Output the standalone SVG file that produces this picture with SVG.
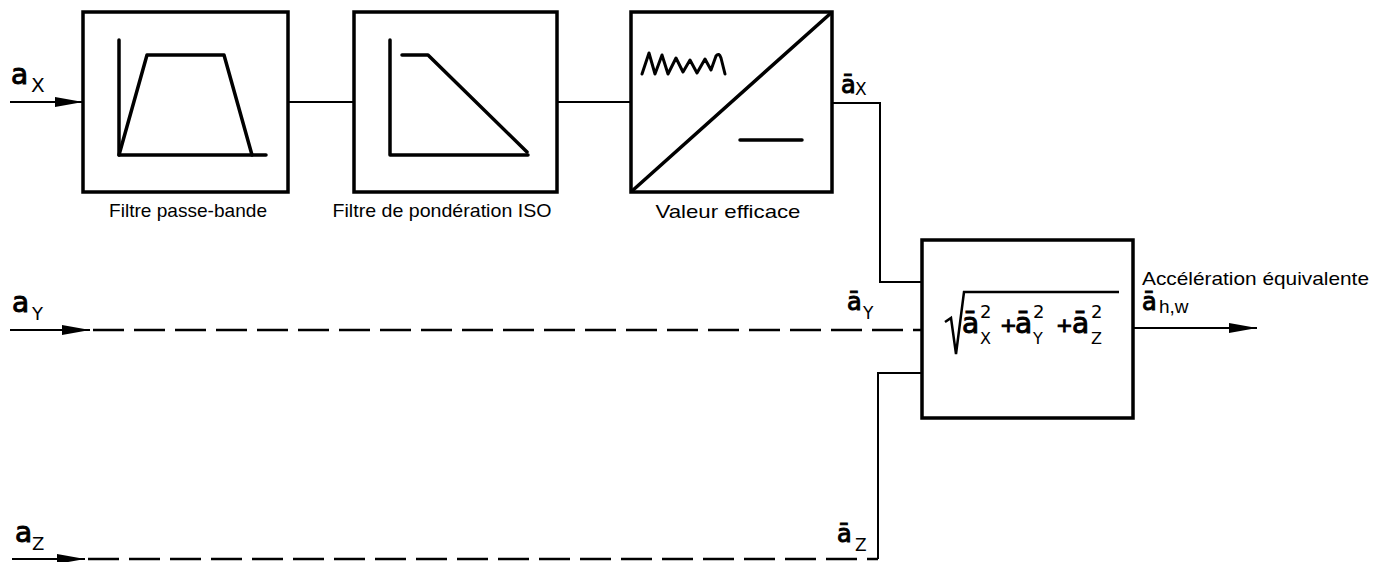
<svg xmlns="http://www.w3.org/2000/svg" width="1373" height="562" viewBox="0 0 1373 562">
<style>
  .box{fill:#fff;stroke:#000;stroke-width:3.5}
  .ink{fill:none;stroke:#000;stroke-width:3.5;stroke-linejoin:round;stroke-linecap:round}
  .wire{fill:none;stroke:#000;stroke-width:2}
  .dash{fill:none;stroke:#000;stroke-width:2.5;stroke-dasharray:31 10}
  .lbl{font-family:"Liberation Sans",Arial,sans-serif;font-size:19px;fill:#000}
  .sym{font-family:"DejaVu Sans","Liberation Sans",sans-serif;fill:#000}
  .a{stroke:#000;stroke-width:1}
</style>
<defs>
  <marker id="arrow" markerUnits="userSpaceOnUse" markerWidth="30" markerHeight="14" refX="28" refY="7" orient="auto" viewBox="0 0 30 14">
    <path d="M0,2 L28,7 L0,12 Z" fill="#000"/>
  </marker>
</defs>
<g id="connectors">
  <line class="wire" x1="10" y1="102" x2="83" y2="102" marker-end="url(#arrow)"/>
  <line class="wire" x1="288" y1="102" x2="354" y2="102"/>
  <line class="wire" x1="557" y1="102" x2="631" y2="102"/>
  <polyline class="wire" points="832,103 880,103 880,282 922,282"/>
  <line class="wire" x1="10" y1="330" x2="90" y2="330" marker-end="url(#arrow)"/>
  <line class="dash" x1="93" y1="330" x2="922" y2="330"/>
  <line class="wire" x1="12" y1="559" x2="85" y2="559" marker-end="url(#arrow)"/>
  <line class="dash" x1="88" y1="559" x2="878" y2="559"/>
  <polyline class="wire" points="878,559 878,373 922,373"/>
  <line class="wire" x1="1133" y1="328" x2="1257" y2="328" marker-end="url(#arrow)"/>
</g>
<g id="bandpass">
  <rect class="box" x="83" y="12" width="205" height="180"/>
  <polyline class="ink" points="119,40 119,155 266,155"/>
  <polyline class="ink" points="119,155 147,55 224,55 252,155"/>
  <text class="lbl" x="188" y="217" text-anchor="middle" textLength="158" lengthAdjust="spacingAndGlyphs">Filtre passe-bande</text>
</g>
<g id="weighting">
  <rect class="box" x="354" y="12" width="203" height="180"/>
  <polyline class="ink" points="390,40 390,155 528,155"/>
  <polyline class="ink" points="402,55 428,55 527,152"/>
  <text class="lbl" x="442" y="217" text-anchor="middle" textLength="219" lengthAdjust="spacingAndGlyphs">Filtre de pondération ISO</text>
</g>
<g id="rms">
  <rect class="box" x="631" y="12" width="201" height="180"/>
  <line class="ink" x1="632" y1="191" x2="831" y2="13"/>
  <path class="ink" style="stroke-width:3" d="M642,74 L649,53 L655,74 L662,55 L668,74 L676,58 L683,72 L690,60 L697,73 L705,59 L711,70 L716,56 Q719,52 721,58 L725,74"/>
  <line class="ink" x1="740" y1="140" x2="802" y2="140"/>
  <text class="lbl" x="728" y="218" text-anchor="middle" textLength="145" lengthAdjust="spacingAndGlyphs">Valeur efficace</text>
</g>
<g id="combiner">
  <rect class="box" x="922" y="240" width="211" height="178"/>
  <polyline class="wire" style="stroke-width:2.5" points="945,322 951,318 956,354 964,292 1119,292"/>
  <text class="sym a" x="962" y="333" font-size="28">ā</text>
  <text class="sym" x="980" y="318" font-size="18">2</text>
  <text class="sym" x="980" y="344" font-size="16">X</text>
  <text class="sym a" x="1000" y="332" font-size="20">+</text>
  <text class="sym a" x="1015" y="333" font-size="28">ā</text>
  <text class="sym" x="1033" y="318" font-size="18">2</text>
  <text class="sym" x="1033" y="344" font-size="16">Y</text>
  <text class="sym a" x="1056" y="332" font-size="20">+</text>
  <text class="sym a" x="1072" y="333" font-size="28">ā</text>
  <text class="sym" x="1091" y="318" font-size="18">2</text>
  <text class="sym" x="1091" y="344" font-size="16">Z</text>
</g>
<g id="labels">
  <text class="sym a" x="11" y="84" font-size="28">a</text>
  <text class="sym" x="31" y="92" font-size="20">X</text>
  <text class="sym a" x="12" y="312" font-size="28">a</text>
  <text class="sym" x="32" y="320" font-size="18">Y</text>
  <text class="sym a" x="15" y="542" font-size="28">a</text>
  <text class="sym" x="32" y="550" font-size="18">Z</text>
  <text class="sym a" x="841" y="93" font-size="24">ā</text>
  <text class="sym" x="855" y="95" font-size="17">X</text>
  <text class="sym a" x="847" y="310" font-size="24">ā</text>
  <text class="sym" x="863" y="319" font-size="17">Y</text>
  <text class="sym a" x="837" y="542" font-size="24">ā</text>
  <text class="sym" x="855" y="551" font-size="17">Z</text>
  <text class="lbl" x="1142" y="285" font-size="20" textLength="227" lengthAdjust="spacingAndGlyphs">Accélération équivalente</text>
  <text class="sym a" x="1142" y="310" font-size="24">ā</text>
  <text class="lbl" x="1159" y="313" font-size="16">h,w</text>
</g>
</svg>
